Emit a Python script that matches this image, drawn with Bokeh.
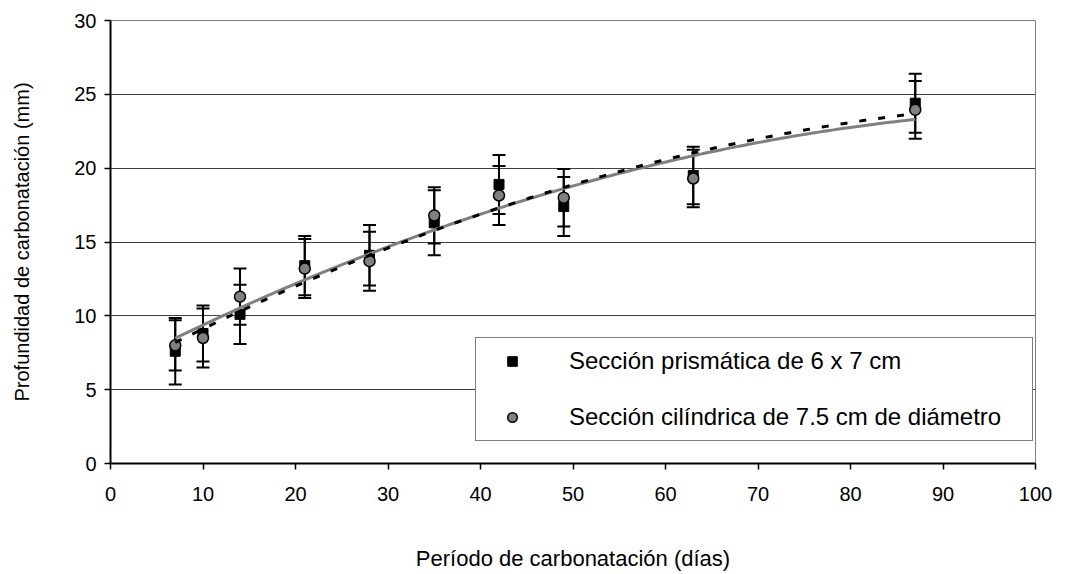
import numpy as np
from bokeh.plotting import figure
from bokeh.models import (ColumnDataSource, Whisker, TeeHead, Legend, LegendItem,
                          FixedTicker, Range1d)
from bokeh.embed import file_html
from bokeh.resources import INLINE

# ---- data ----
days = [7, 10, 14, 21, 28, 35, 42, 49, 63, 87]
prism = [7.6, 8.8, 10.1, 13.4, 14.1, 16.3, 18.9, 17.4, 19.5, 24.4]
prism_err = [2.25, 1.9, 2.0, 2.0, 2.05, 2.2, 2.0, 2.0, 1.95, 2.0]
cyl = [8.0, 8.5, 11.3, 13.2, 13.7, 16.8, 18.15, 18.0, 19.3, 23.95]
cyl_err = [1.7, 2.0, 1.9, 2.0, 2.0, 1.9, 2.0, 1.95, 1.95, 1.95]
x_ticks = [0, 10, 20, 30, 40, 50, 60, 70, 80, 90, 100]
y_ticks = [0, 5, 10, 15, 20, 25, 30]
label_prism = "Sección prismática de 6 x 7 cm"
label_cyl = "Sección cilíndrica de 7.5 cm de diámetro"
x_title = "Período de carbonatación (días)"
y_title = "Profundidad de carbonatación (mm)"

FONT = "Liberation Sans"

p = figure(frame_width=925, frame_height=443,
           min_border_left=110, min_border_right=40,
           min_border_top=20, min_border_bottom=107,
           x_range=Range1d(0, 100), y_range=Range1d(0, 30),
           output_backend="svg", toolbar_location=None)

p.background_fill_color = "white"
p.border_fill_color = "white"
p.outline_line_color = "#808080"
p.outline_line_width = 1

p.xgrid.grid_line_color = None
p.ygrid.grid_line_color = "#404040"
p.ygrid.grid_line_width = 1.2
p.ygrid.ticker = FixedTicker(ticks=y_ticks)

p.xaxis.ticker = FixedTicker(ticks=x_ticks)
p.yaxis.ticker = FixedTicker(ticks=y_ticks)
for ax in (p.xaxis, p.yaxis):
    ax.axis_line_color = "black"
    ax.axis_line_width = 2
    ax.major_tick_line_color = "black"
    ax.major_tick_line_width = 1.5
    ax.major_tick_in = 0
    ax.major_tick_out = 6
    ax.minor_tick_line_color = None
    ax.major_label_text_font = FONT
    ax.major_label_text_font_size = "20px"
    ax.major_label_text_color = "black"
    ax.axis_label_text_font = FONT
    ax.axis_label_text_font_style = "normal"
    ax.axis_label_text_color = "black"
p.xaxis.axis_label_text_font_size = "22px"
p.yaxis.axis_label_text_font_size = "20px"
p.xaxis.major_label_standoff = 17
p.yaxis.major_label_standoff = 8
p.xaxis.axis_label_standoff = 42
p.yaxis.axis_label_standoff = 38
p.xaxis.axis_label = x_title
p.yaxis.axis_label = y_title

d = np.array(days, dtype=float)
pr = np.array(prism)
pe = np.array(prism_err)
cy = np.array(cyl)
ce = np.array(cyl_err)

src_p = ColumnDataSource(dict(x=d, y=pr, lo=pr - pe, hi=pr + pe))
src_c = ColumnDataSource(dict(x=d, y=cy, lo=cy - ce, hi=cy + ce))

for src in (src_p, src_c):
    w = Whisker(source=src, base="x", lower="lo", upper="hi",
                line_color="black", line_width=2,
                upper_head=TeeHead(size=13, line_color="black", line_width=2),
                lower_head=TeeHead(size=13, line_color="black", line_width=2))
    p.add_layout(w)

r_sq = p.scatter("x", "y", source=src_p, marker="square", size=10,
                 fill_color="black", line_color="black")
r_ci = p.scatter("x", "y", source=src_c, marker="circle", size=11,
                 fill_color="#808080", line_color="black", line_width=1.5)

# polynomial (2nd order) trend lines as in the original spreadsheet chart
xs = np.linspace(min(days), max(days), 200)
fit_c = np.polyval(np.polyfit(d, cy, 2), xs)
fit_p = np.polyval(np.polyfit(d, pr, 2), xs)
p.line(xs, fit_c, line_color="#808080", line_width=3)
p.line(xs, fit_p, line_color="black", line_width=3, line_dash="7 12")

legend = Legend(items=[LegendItem(label=label_prism, renderers=[r_sq]),
                       LegendItem(label=label_cyl, renderers=[r_ci])],
                location=(365, 22))
legend.label_text_font = FONT
legend.label_text_font_size = "24px"
legend.label_text_color = "black"
legend.border_line_color = "black"
legend.border_line_width = 1.5
legend.background_fill_color = "white"
legend.background_fill_alpha = 1
legend.padding = 9
legend.margin = 0
legend.glyph_width = 54
legend.glyph_height = 24
legend.label_height = 24
legend.label_standoff = 30
legend.label_width = 454
legend.spacing = 28
p.add_layout(legend, "center")

open("out.html", "w").write(file_html(p, INLINE))
